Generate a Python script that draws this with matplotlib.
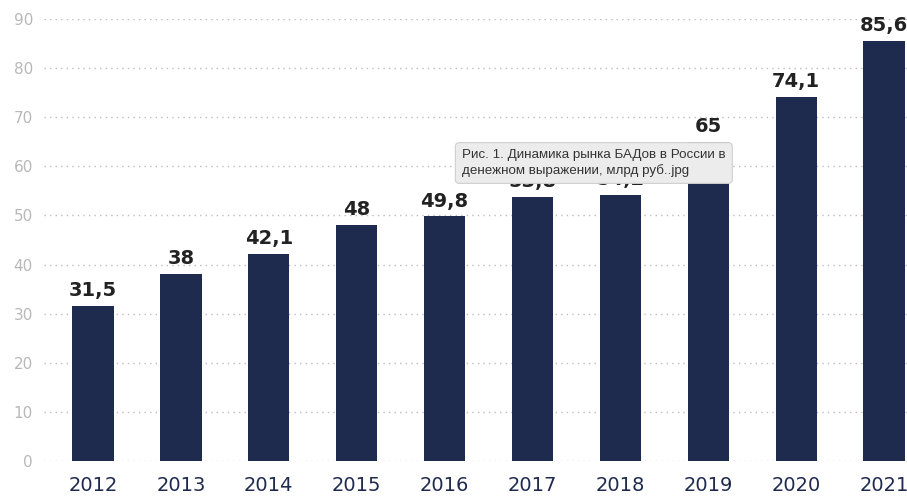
import matplotlib
matplotlib.use('Agg')
import matplotlib.pyplot as plt

# данные: рынок БАДов в России, млрд руб.
years = ['2012', '2013', '2014', '2015', '2016', '2017', '2018', '2019', '2020', '2021']
values = [31.5, 38, 42.1, 48, 49.8, 53.8, 54.2, 65, 74.1, 85.6]
y_ticks = [0, 10, 20, 30, 40, 50, 60, 70, 80, 90]

navy = '#1f2a4f'

fig = plt.figure(figsize=(9.07, 4.96), dpi=100)
ax = fig.add_axes([0.0485, 0.0706, 0.9515, 0.891])

x = list(range(len(years)))
ax.bar(x, values, width=0.47, color=navy, zorder=3)

for xi, v in zip(x, values):
    label = ('%g' % v).replace('.', ',')
    ax.text(xi, v + 1.2, label, ha='center', va='bottom', fontsize=14,
            fontweight='semibold', color='#222222', zorder=4, clip_on=False)

ax.set_xlim(-0.557, 9.26)
ax.set_ylim(0, 90)
ax.set_yticks(y_ticks)
ax.set_xticks(x)
ax.set_xticklabels(years, fontsize=14, color=navy)
ax.tick_params(axis='x', length=0, pad=11)
ax.tick_params(axis='y', length=0, pad=8, labelsize=11, labelcolor='#b8b8b8')
for s in ax.spines.values():
    s.set_visible(False)
ax.yaxis.grid(True, linestyle=(0, (1, 3)), color='#bdbdbd', linewidth=1, zorder=0)

# всплывающая подсказка поверх графика
fig.text(462 / 907, 1 - 163 / 496,
         'Рис. 1. Динамика рынка БАДов в России в\nденежном выражении, млрд руб..jpg',
         family='Liberation Sans', fontsize=9.6, color='#333333', ha='left',
         va='center', linespacing=1.25, zorder=10,
         bbox=dict(boxstyle='round,pad=0.5,rounding_size=0.3', facecolor='#ececec',
                   edgecolor='#cfcfcf', linewidth=0.8))

plt.savefig('out.png', dpi=100)
